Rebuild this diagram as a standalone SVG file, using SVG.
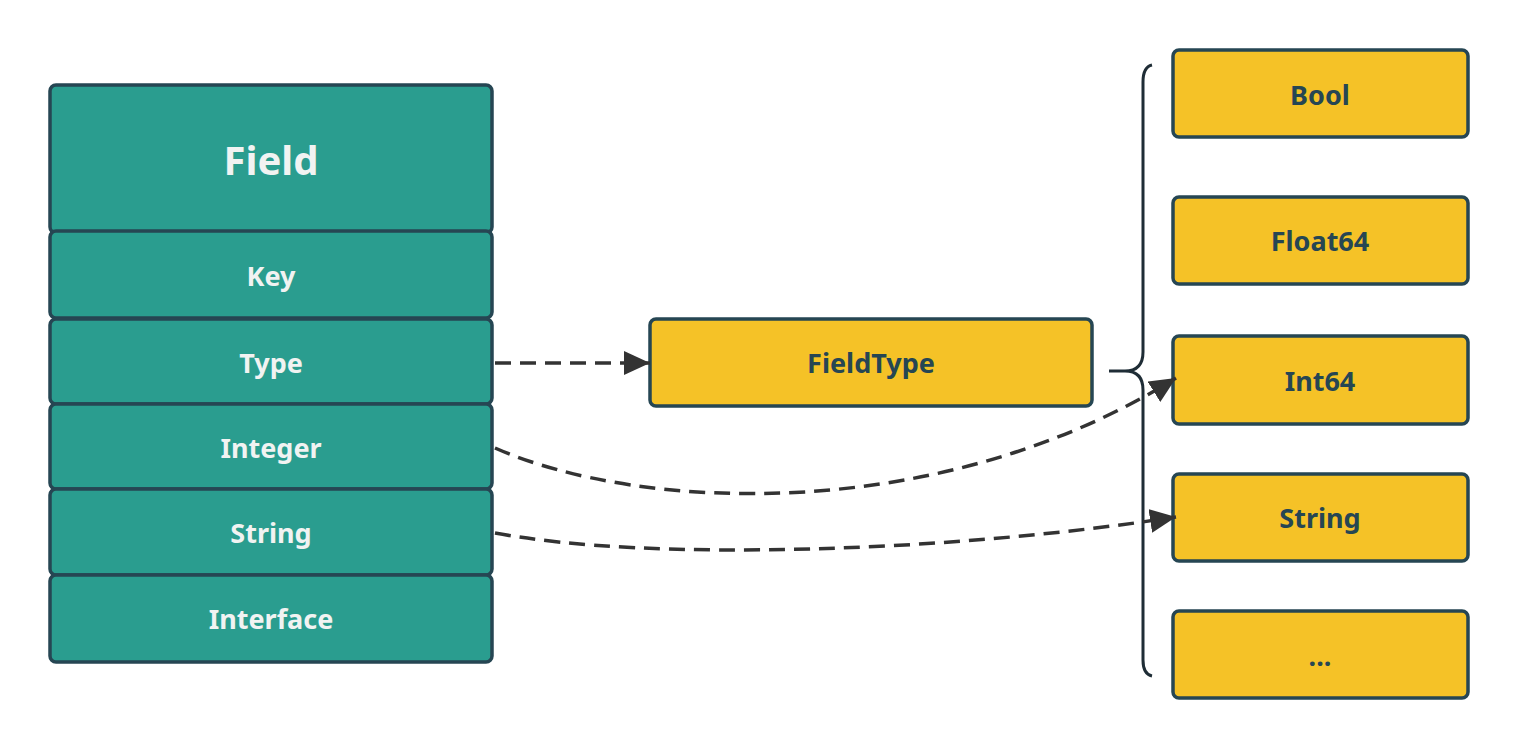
<svg xmlns="http://www.w3.org/2000/svg" width="1518" height="749" viewBox="0 0 1518 749">
<defs>
<style>
.teal{fill:#2A9D8F;stroke:#264653;stroke-width:3.5}
.yel{fill:#F5C227;stroke:#264653;stroke-width:3.5}
.tw{fill:#F1F3F2;font-family:"Noto Sans","Open Sans",sans-serif;font-weight:bold;font-size:27px;text-anchor:middle;dominant-baseline:central}
.td{fill:#264653;font-family:"Noto Sans","Open Sans",sans-serif;font-weight:bold;font-size:27px;text-anchor:middle;dominant-baseline:central}
.conn{fill:none;stroke:#333333;stroke-width:3.5;stroke-dasharray:16 9}
</style>
<marker id="ah" markerUnits="userSpaceOnUse" markerWidth="28" markerHeight="24" refX="26" refY="12" orient="auto">
<path d="M0,0 L26,12 L0,24 z" fill="#333333"/>
</marker>
</defs>
<rect width="1518" height="749" fill="#ffffff"/>
<g id="field">
<rect class="teal" x="50" y="85" width="442" height="148" rx="6"/>
<text class="tw" x="271" y="159" style="font-size:40px">Field</text>
</g>
<g id="key">
<rect class="teal" x="50" y="231" width="442" height="87" rx="6"/>
<text class="tw" x="271" y="275">Key</text>
</g>
<g id="type">
<rect class="teal" x="50" y="319" width="442" height="85" rx="6"/>
<text class="tw" x="271" y="362">Type</text>
</g>
<g id="integer">
<rect class="teal" x="50" y="404" width="442" height="85" rx="6"/>
<text class="tw" x="271" y="447">Integer</text>
</g>
<g id="string">
<rect class="teal" x="50" y="489" width="442" height="86" rx="6"/>
<text class="tw" x="271" y="532">String</text>
</g>
<g id="interface">
<rect class="teal" x="50" y="575" width="442" height="87" rx="6"/>
<text class="tw" x="271" y="618">Interface</text>
</g>
<g id="fieldtype">
<rect class="yel" x="650" y="319" width="442" height="87" rx="6"/>
<text class="td" x="871" y="362">FieldType</text>
</g>
<g id="bool">
<rect class="yel" x="1173" y="50" width="295" height="87" rx="6"/>
<text class="td" x="1320" y="94">Bool</text>
</g>
<g id="float64">
<rect class="yel" x="1173" y="197" width="295" height="87" rx="6"/>
<text class="td" x="1320" y="240">Float64</text>
</g>
<g id="int64">
<rect class="yel" x="1173" y="336" width="295" height="88" rx="6"/>
<text class="td" x="1320" y="380">Int64</text>
</g>
<g id="stringtype">
<rect class="yel" x="1173" y="474" width="295" height="87" rx="6"/>
<text class="td" x="1320" y="517">String</text>
</g>
<g id="more">
<rect class="yel" x="1173" y="611" width="295" height="87" rx="6"/>
<text class="td" x="1320" y="655">...</text>
</g>
<g id="brace">
<path d="M1152,65 Q1143,67 1143,82 L1143,352 Q1143,371 1125,371 L1109,371 M1125,371 Q1143,371 1143,390 L1143,660 Q1143,674 1152,676" fill="none" stroke="#1F2D36" stroke-width="3"/>
</g>
<g id="connectors">
<path class="conn" d="M495,363 L650,363" marker-end="url(#ah)"/>
<path class="conn" d="M495,448 C640,512 940,525 1176,378" marker-end="url(#ah)"/>
<path class="conn" d="M495,533 C650,562 950,552 1176,517" marker-end="url(#ah)"/>
</g>
</svg>
